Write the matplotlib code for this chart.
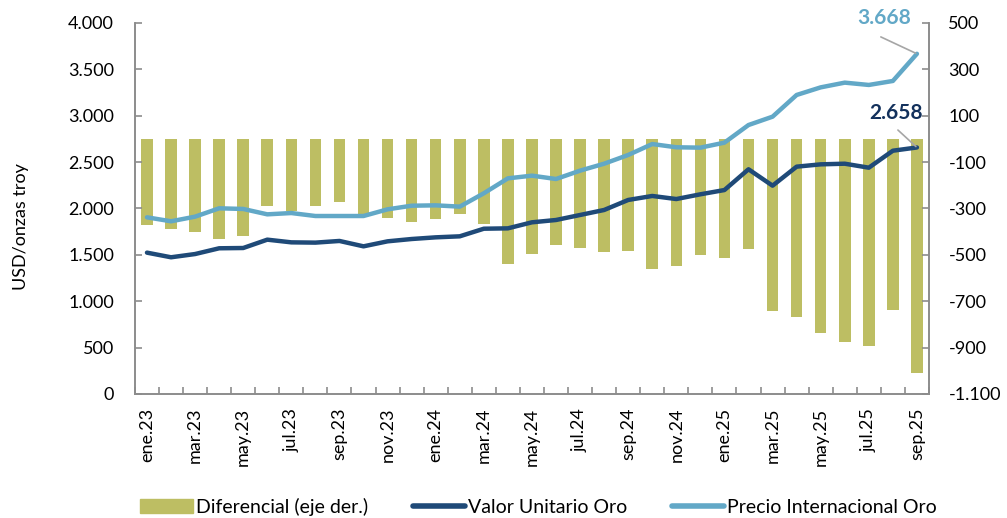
import matplotlib
matplotlib.use("Agg")
import matplotlib.pyplot as plt
from matplotlib.patches import Patch
from matplotlib.lines import Line2D
from matplotlib.ticker import FuncFormatter

plt.rcParams['font.family'] = ['Lato', 'DejaVu Sans']

months = ["ene.23", "feb.23", "mar.23", "abr.23", "may.23", "jun.23", "jul.23", "ago.23", "sep.23",
          "oct.23", "nov.23", "dic.23", "ene.24", "feb.24", "mar.24", "abr.24", "may.24", "jun.24",
          "jul.24", "ago.24", "sep.24", "oct.24", "nov.24", "dic.24", "ene.25", "feb.25", "mar.25",
          "abr.25", "may.25", "jun.25", "jul.25", "ago.25", "sep.25"]

valor_unitario = [1524, 1474, 1509, 1571, 1574, 1664, 1635, 1632, 1650, 1592, 1646, 1671, 1689,
                  1700, 1782, 1786, 1851, 1876, 1930, 1984, 2092, 2135, 2102, 2153, 2199, 2423,
                  2246, 2451, 2476, 2483, 2440, 2623, 2658]

precio_internacional = [1905, 1862, 1912, 2002, 1995, 1937, 1951, 1919, 1919, 1919, 1991, 2030,
                        2034, 2020, 2164, 2325, 2354, 2318, 2408, 2483, 2577, 2695, 2660, 2656,
                        2710, 2900, 2990, 3224, 3306, 3357, 3332, 3375, 3668]

diferencial = [-371, -387, -402, -430, -420, -290, -310, -288, -270, -332, -340, -357, -345,
               -322, -367, -538, -495, -457, -472, -489, -485, -563, -550, -499, -515, -476,
               -740, -770, -839, -874, -891, -739, -1010]

c_bar = "#BDBE63"
c_dark = "#1F4A78"
c_light = "#62A8C7"
c_spine = "#8C8C8C"
fs = 13

fig = plt.figure(figsize=(10.07, 5.18), dpi=100)
ax = fig.add_axes([0.134, 0.2394, 0.7885, 0.7162])
ax2 = ax.twinx()

x = list(range(len(months)))
ax2.bar(x, diferencial, width=0.48, color=c_bar, zorder=1)
ax.plot(x, valor_unitario, color=c_dark, lw=3.2, solid_capstyle='round', zorder=3)
ax.plot(x, precio_internacional, color=c_light, lw=3.2, solid_capstyle='round', zorder=3)

ax.set_zorder(ax2.get_zorder() + 1)
ax.patch.set_visible(False)

ax.set_xlim(-0.5, len(months) - 0.5)
ax.set_ylim(0, 4000)
ax2.set_ylim(-1100, 500)
ax.set_yticks(range(0, 4001, 500))
ax2.set_yticks(range(-1100, 501, 200))

def fmt(v, pos):
    s = f"{int(round(abs(v))):,}".replace(",", ".")
    return ("-" + s) if v < 0 else s

ax.yaxis.set_major_formatter(FuncFormatter(fmt))
ax2.yaxis.set_major_formatter(FuncFormatter(fmt))

ax.set_xticks([i - 0.5 for i in range(len(months) + 1)], minor=False)
ax.set_xticklabels([])
ax.set_xticks(x[::2], minor=True)
ax.set_xticklabels(months[::2], minor=True, rotation=90, fontsize=fs)
ax.tick_params(axis='x', which='minor', length=0, pad=10)
ax.tick_params(axis='x', which='major', length=5, width=1.2, color=c_spine, direction='in')
ax.tick_params(axis='y', labelsize=fs, length=5, width=1.2, color=c_spine, direction='in', pad=15)
ax2.tick_params(axis='y', labelsize=fs, length=5, width=1.2, color=c_spine, direction='in', pad=14)

for a in (ax, ax2):
    a.spines['top'].set_visible(False)
    for s in ('left', 'right', 'bottom'):
        a.spines[s].set_color(c_spine)
        a.spines[s].set_linewidth(1.2)

ax.set_ylabel("USD/onzas troy", fontsize=fs)
ax.yaxis.set_label_coords(-0.133, 0.45)

# annotations
last = len(months) - 1
ax.annotate("", xy=(last, precio_internacional[-1]), xytext=(last - 1.5, 3850),
            arrowprops=dict(arrowstyle='-', color='#A6A6A6', lw=1.2, shrinkA=0, shrinkB=1))
ax.text(last - 1.37, 4050, f"{precio_internacional[-1]:,}".replace(",", "."), color=c_light,
        fontsize=15, fontweight='bold', ha='center', va='center', clip_on=False)
ax.annotate("", xy=(last, valor_unitario[-1]), xytext=(last - 0.79, 2846),
            arrowprops=dict(arrowstyle='-', color='#A6A6A6', lw=1.2, shrinkA=0, shrinkB=1))
ax.text(last - 0.87, 3030, f"{valor_unitario[-1]:,}".replace(",", "."), color="#13315C",
        fontsize=15, fontweight='bold', ha='center', va='center')

handles = [Patch(color=c_bar), Line2D([], [], color=c_dark, lw=4, solid_capstyle='round'),
           Line2D([], [], color=c_light, lw=4, solid_capstyle='round')]
labels = ["Diferencial (eje der.)", "Valor Unitario Oro", "Precio Internacional Oro"]
fig.legend(handles, labels, loc='lower center', bbox_to_anchor=(0.535, -0.03), ncol=3,
           frameon=False, fontsize=14, handlelength=2.7, handletextpad=0.15, columnspacing=2.3)

fig.savefig("out.png", dpi=100)
